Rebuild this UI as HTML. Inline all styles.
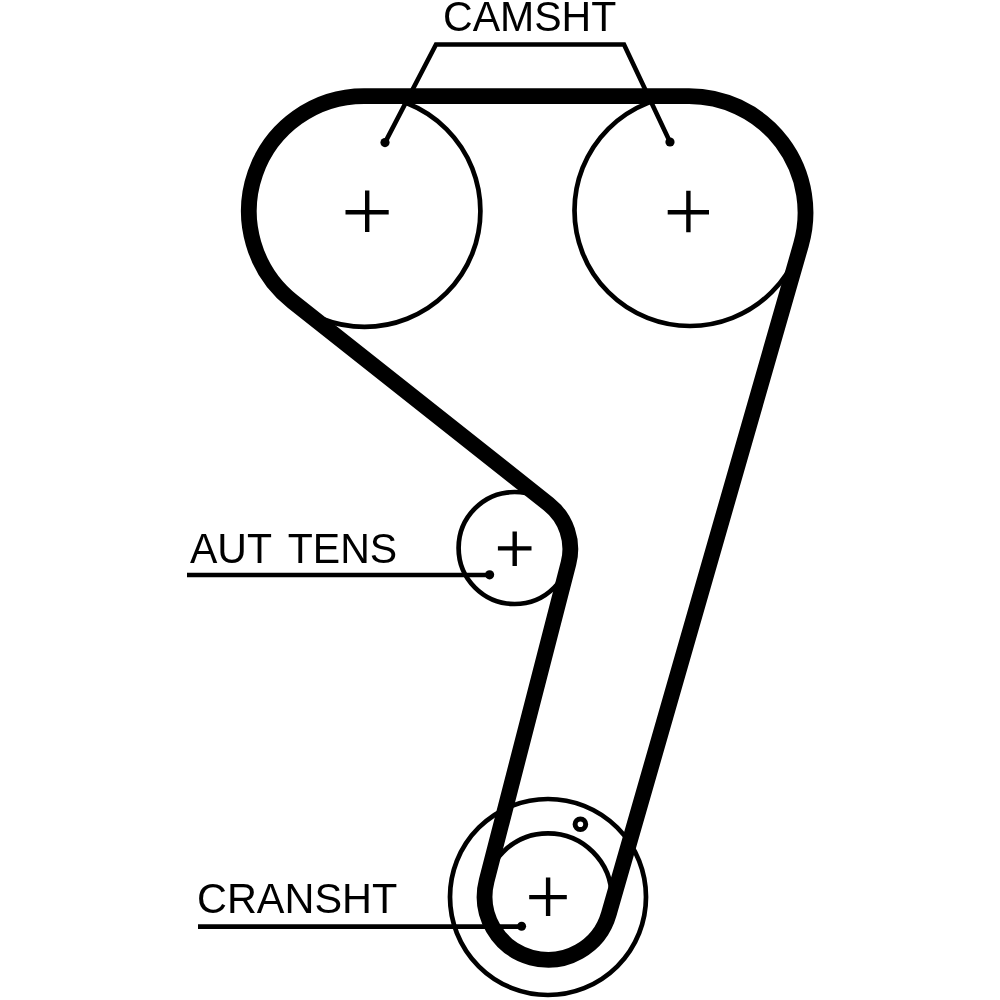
<!DOCTYPE html>
<html>
<head>
<meta charset="utf-8">
<style>
html, body { margin: 0; padding: 0; background: #fff; }
body { width: 1000px; height: 1000px; overflow: hidden; }
svg { display: block; filter: blur(0.45px); }
text { font-family: "Liberation Sans", sans-serif; font-size: 42.5px; fill: #000; }
</style>
</head>
<body>
<svg width="1000" height="1000" viewBox="0 0 1000 1000">
  <rect width="1000" height="1000" fill="#fff"/>
  <g fill="none" stroke="#000" stroke-width="4.7">
    <!-- cam pulleys -->
    <circle cx="364.5" cy="211" r="115.9"/>
    <circle cx="690" cy="210.5" r="115.5"/>
    <!-- tensioner -->
    <circle cx="514.6" cy="548" r="56"/>
    <!-- crank -->
    <circle cx="548" cy="897" r="98"/>
    <circle cx="548" cy="897" r="63.6"/>
    <circle cx="580.4" cy="824.2" r="5.3" stroke-width="5"/>
  </g>
  <!-- belt -->
  <path d="M 364.00 96.10 L 689.00 96.10 A 116.5 116.5 0 0 1 800.98 244.75 L 608.84 913.87 A 63.3 63.3 0 0 1 486.70 880.60 L 568.49 563.30 A 57.3 57.3 0 0 0 548.56 504.07 L 292.57 301.45 A 115.1 115.1 0 0 1 364.00 96.10 Z" fill="none" stroke="#000" stroke-width="15.8" stroke-linejoin="round"/>
  <!-- crosses -->
  <g stroke="#000" stroke-width="4.4" fill="none">
    <path d="M345.5 212.2 H388.7 M367.2 190.5 V232"/>
    <path d="M667.7 212.2 H709 M688.4 190.8 V232.3"/>
    <path d="M497.9 548.4 H531.5 M514.7 531.6 V566"/>
    <path d="M529.2 897.1 H566.8 M548.1 877.6 V916"/>
  </g>
  <!-- leaders -->
  <g stroke="#000" stroke-width="4.6" fill="none" stroke-linejoin="miter">
    <polyline points="385,142.6 436,44.5 624,44.5 670,142"/>
    <line x1="187" y1="575" x2="490" y2="575"/>
    <line x1="198" y1="926.6" x2="521.5" y2="926.6"/>
  </g>
  <g fill="#000">
    <circle cx="385" cy="142.6" r="4.6"/>
    <circle cx="670" cy="142" r="4.6"/>
    <circle cx="489.6" cy="574.8" r="4.6"/>
    <circle cx="521.6" cy="926.2" r="4.5"/>
  </g>
  <text transform="translate(443 31) scale(0.966 1)">CAMSHT</text>
  <text transform="translate(190 563) scale(0.966 1)" word-spacing="6">AUT TENS</text>
  <text transform="translate(197 912.8) scale(0.975 1)">CRANSHT</text>
</svg>
</body>
</html>
